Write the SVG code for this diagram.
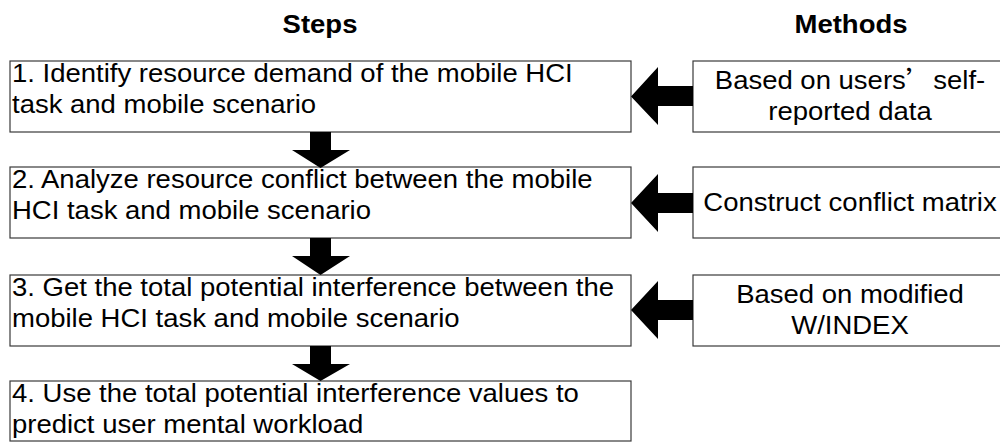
<svg xmlns="http://www.w3.org/2000/svg" width="1000" height="448" viewBox="0 0 1000 448">
  <style>
    .box { fill: #ffffff; stroke: #3a3a3a; stroke-width: 1.2; }
    .txt { font-family: "Liberation Sans", Arial, sans-serif; font-size: 25px; fill: #000000; }
    .title { font-family: "Liberation Sans", Arial, sans-serif; font-size: 25px; font-weight: bold; fill: #000000; text-anchor: middle; }
    .mid { text-anchor: middle; }
    .arrow { fill: #000000; stroke: none; }
    .cjk { font-family: "Noto Sans CJK SC", sans-serif; }
  </style>

  <!-- column headings -->
  <g id="headings">
    <text class="title" transform="translate(320,33) scale(1.1,1)">Steps</text>
    <text class="title" transform="translate(851,33) scale(1.1,1)">Methods</text>
  </g>

  <!-- step boxes -->
  <g id="step1">
    <rect class="box" x="10" y="61" width="621" height="71"/>
    <text class="txt" transform="translate(12,82) scale(1.1,1)">1. Identify resource demand of the mobile HCI</text>
    <text class="txt" transform="translate(12,113) scale(1.1,1)">task and mobile scenario</text>
  </g>
  <g id="step2">
    <rect class="box" x="10" y="167" width="621" height="71"/>
    <text class="txt" transform="translate(12,188) scale(1.1,1)">2. Analyze resource conflict between the mobile</text>
    <text class="txt" transform="translate(12,219) scale(1.1,1)">HCI task and mobile scenario</text>
  </g>
  <g id="step3">
    <rect class="box" x="10" y="275" width="621" height="71"/>
    <text class="txt" transform="translate(12,296) scale(1.1,1)">3. Get the total potential interference between the</text>
    <text class="txt" transform="translate(12,327) scale(1.1,1)">mobile HCI task and mobile scenario</text>
  </g>
  <g id="step4">
    <rect class="box" x="10" y="381" width="621" height="60"/>
    <text class="txt" transform="translate(12,402) scale(1.1,1)">4. Use the total potential interference values to</text>
    <text class="txt" transform="translate(12,433) scale(1.1,1)">predict user mental workload</text>
  </g>

  <!-- method boxes -->
  <g id="method1">
    <rect class="box" x="693" y="61" width="316" height="71"/>
    <text class="txt mid" transform="translate(850,89) scale(1.1,1)">Based on users<tspan class="cjk">’</tspan>self-</text>
    <text class="txt mid" transform="translate(850,120) scale(1.1,1)">reported data</text>
  </g>
  <g id="method2">
    <rect class="box" x="693" y="167" width="316" height="71"/>
    <text class="txt mid" transform="translate(850,211) scale(1.1,1)">Construct conflict matrix</text>
  </g>
  <g id="method3">
    <rect class="box" x="693" y="275" width="316" height="71"/>
    <text class="txt mid" transform="translate(850,303) scale(1.1,1)">Based on modified</text>
    <text class="txt mid" transform="translate(850,334) scale(1.1,1)">W/INDEX</text>
  </g>

  <!-- block arrows -->
  <g id="connectors">
    <polygon class="arrow" points="310,132 331,132 331,150 350,150 320.5,168 292,150 310,150"/>
    <polygon class="arrow" points="310,238 331,238 331,256 350,256 320.5,275 292,256 310,256"/>
    <polygon class="arrow" points="310,346 331,346 331,364 350,364 320.5,381 292,364 310,364"/>
    <polygon class="arrow" points="693,86 658,86 658,67 631,96.5 658,125 658,106 693,106"/>
    <polygon class="arrow" points="693,193 658,193 658,174 631,203 658,232 658,213 693,213"/>
    <polygon class="arrow" points="693,300 658,300 658,281 631,310 658,339 658,320 693,320"/>
  </g>
</svg>
